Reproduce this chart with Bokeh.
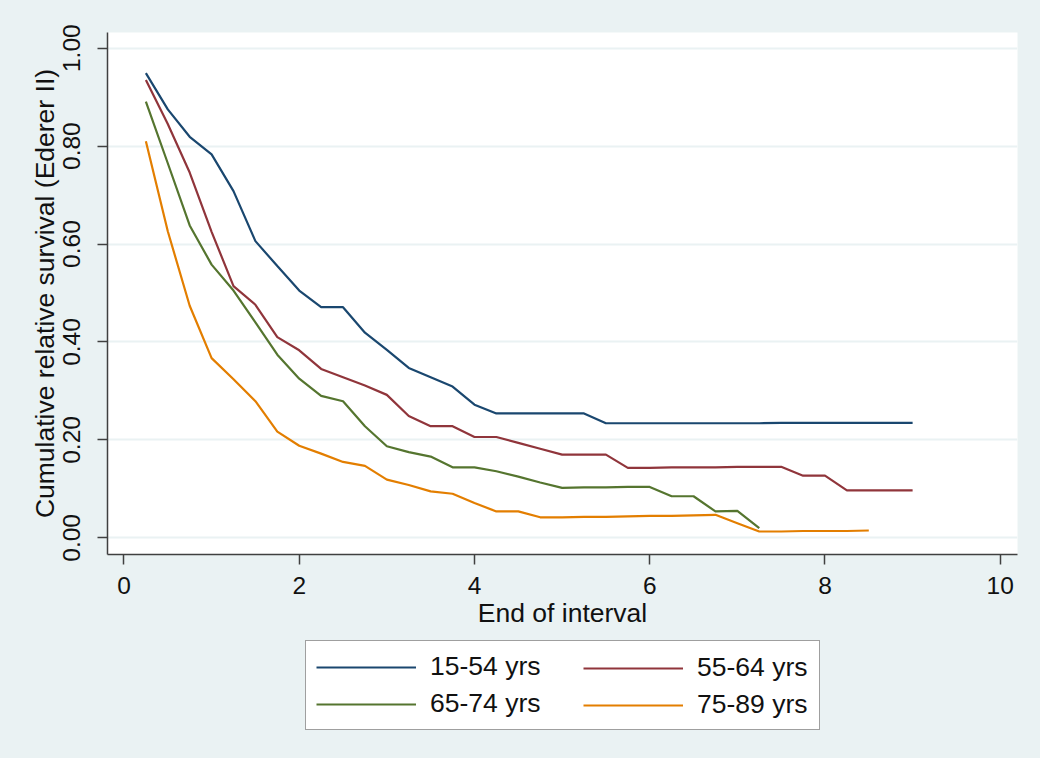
from bokeh.plotting import figure
from bokeh.models import Range1d, Legend, LegendItem, FixedTicker, ColumnDataSource
from bokeh.layouts import column
from bokeh.embed import file_html
from bokeh.resources import INLINE

# ---- data ----
t_all = [0.25, 0.5, 0.75, 1.0, 1.25, 1.5, 1.75, 2.0, 2.25, 2.5, 2.75, 3.0,
         3.25, 3.5, 3.75, 4.0, 4.25, 4.5, 4.75, 5.0, 5.25, 5.5, 5.75, 6.0,
         6.25, 6.5, 6.75, 7.0, 7.25, 7.5, 7.75, 8.0, 8.25, 8.5, 8.75, 9.0]

surv_15_54 = [0.949, 0.875, 0.819, 0.783, 0.708, 0.606, 0.555, 0.505, 0.471, 0.471,
              0.419, 0.384, 0.347, 0.328, 0.309, 0.272, 0.254, 0.254, 0.254, 0.254,
              0.254, 0.234, 0.234, 0.234, 0.234, 0.234, 0.234, 0.234, 0.234, 0.235,
              0.235, 0.235, 0.235, 0.235, 0.235, 0.235]
surv_55_64 = [0.935, 0.845, 0.746, 0.625, 0.514, 0.476, 0.410, 0.383, 0.345, 0.328,
              0.311, 0.292, 0.249, 0.228, 0.228, 0.206, 0.206, 0.194, 0.182, 0.170,
              0.170, 0.170, 0.143, 0.143, 0.144, 0.144, 0.144, 0.145, 0.145, 0.145,
              0.127, 0.127, 0.097, 0.097, 0.097, 0.097]
surv_65_74 = [0.891, 0.765, 0.638, 0.558, 0.505, 0.440, 0.374, 0.325, 0.290, 0.279,
              0.228, 0.187, 0.175, 0.166, 0.144, 0.144, 0.136, 0.125, 0.113, 0.102,
              0.103, 0.103, 0.104, 0.104, 0.085, 0.085, 0.054, 0.055, 0.020]
surv_75_89 = [0.810, 0.626, 0.474, 0.367, 0.324, 0.279, 0.217, 0.188, 0.172, 0.155,
              0.147, 0.119, 0.108, 0.095, 0.090, 0.071, 0.054, 0.054, 0.042, 0.042,
              0.043, 0.043, 0.044, 0.045, 0.045, 0.046, 0.047, 0.030, 0.013, 0.013,
              0.014, 0.014, 0.014, 0.015]

series_labels = ["15-54 yrs", "55-64 yrs", "65-74 yrs", "75-89 yrs"]
series_values = [surv_15_54, surv_55_64, surv_65_74, surv_75_89]
series_colors = ["#1a476f", "#90353b", "#55752f", "#e37e00"]

x_ticks = [0, 2, 4, 6, 8, 10]
y_ticks = [0.0, 0.2, 0.4, 0.6, 0.8, 1.0]
y_tick_labels = ["0.00", "0.20", "0.40", "0.60", "0.80", "1.00"]

x_title = "End of interval"
y_title = "Cumulative relative survival (Ederer II)"

FONT = "Liberation Sans"
BG = "#eaf2f3"
TXT = "#111111"

MAIN_H = 640
LEG_H = 758 - MAIN_H

# ---- main plot ----
p = figure(width=1040, height=MAIN_H,
           x_range=Range1d(-0.188, 10.197), y_range=Range1d(-0.034, 1.032),
           output_backend="svg", toolbar_location=None,
           min_border_left=107, min_border_right=23, min_border_top=32,
           min_border_bottom=MAIN_H - 554)
p.border_fill_color = BG
p.background_fill_color = "white"
p.outline_line_color = None

for lab, vals, col in zip(series_labels, series_values, series_colors):
    src = ColumnDataSource(dict(x=t_all[:len(vals)], y=vals))
    p.line("x", "y", source=src, line_color=col, line_width=2.2)

p.xgrid.visible = False
p.ygrid.ticker = FixedTicker(ticks=y_ticks)
p.ygrid.grid_line_color = BG
p.ygrid.grid_line_width = 2

for ax in (p.xaxis[0], p.yaxis[0]):
    ax.axis_line_color = "#404040"
    ax.axis_line_width = 1.5
    ax.major_tick_line_color = "#404040"
    ax.major_tick_line_width = 1.5
    ax.major_tick_out = 10
    ax.major_tick_in = 0
    ax.minor_tick_out = 0
    ax.minor_tick_in = 0
    ax.major_label_text_font = FONT
    ax.major_label_text_font_size = "24.5px"
    ax.major_label_text_color = TXT
    ax.axis_label_text_font = FONT
    ax.axis_label_text_font_size = "26.5px"
    ax.axis_label_text_font_style = "normal"
    ax.axis_label_text_color = TXT

p.xaxis.ticker = FixedTicker(ticks=x_ticks)
p.xaxis.axis_label = x_title
p.xaxis.major_label_standoff = 12
p.xaxis.axis_label_standoff = 1

p.yaxis.ticker = FixedTicker(ticks=y_ticks)
p.yaxis.major_label_overrides = {v: s for v, s in zip(y_ticks, y_tick_labels)}
p.yaxis.major_label_orientation = "vertical"
p.yaxis.axis_label = y_title
p.yaxis.major_label_standoff = 17
p.yaxis.axis_label_standoff = 1

# ---- legend strip ----
lf = figure(width=1040, height=LEG_H, x_range=Range1d(0, 1), y_range=Range1d(0, 1),
            x_axis_type=None, y_axis_type=None,
            output_backend="svg", toolbar_location=None,
            min_border_left=0, min_border_right=0, min_border_top=0, min_border_bottom=0)
lf.border_fill_color = BG
lf.background_fill_color = BG
lf.outline_line_color = None
lf.xgrid.visible = False
lf.ygrid.visible = False

items = []
for lab, vals, col in zip(series_labels, series_values, series_colors):
    src = ColumnDataSource(dict(x=t_all[:len(vals)], y=vals))
    r = lf.line("x", "y", source=src, line_color=col, line_width=2.2, visible=False)
    items.append(LegendItem(label=lab, renderers=[r]))

common = dict(ncols=1, orientation="vertical",
              label_text_font=FONT, label_text_font_size="26.5px",
              label_text_color=TXT,
              glyph_width=100, glyph_height=20, label_standoff=14,
              spacing=6, padding=10, margin=0, inactive_fill_alpha=0.0)

# left column, its box spans the whole legend
leg1 = Legend(items=[items[0], items[2]], location=(198, 28), label_width=379,
              border_line_color="#404040", border_line_width=1.5,
              background_fill_color="white", background_fill_alpha=1.0, **common)
# right column, drawn over the same box
leg2 = Legend(items=[items[1], items[3]], location=(466, 28), label_width=100,
              border_line_alpha=0.0, background_fill_alpha=0.0, **common)
lf.add_layout(leg1, "center")
lf.add_layout(leg2, "center")

layout = column(p, lf, spacing=0)
html = file_html(layout, INLINE)
html = html.replace("</head>",
                    "<style>html,body{margin:0;padding:0;background:%s;}</style></head>" % BG, 1)
open("out.html", "w").write(html)
